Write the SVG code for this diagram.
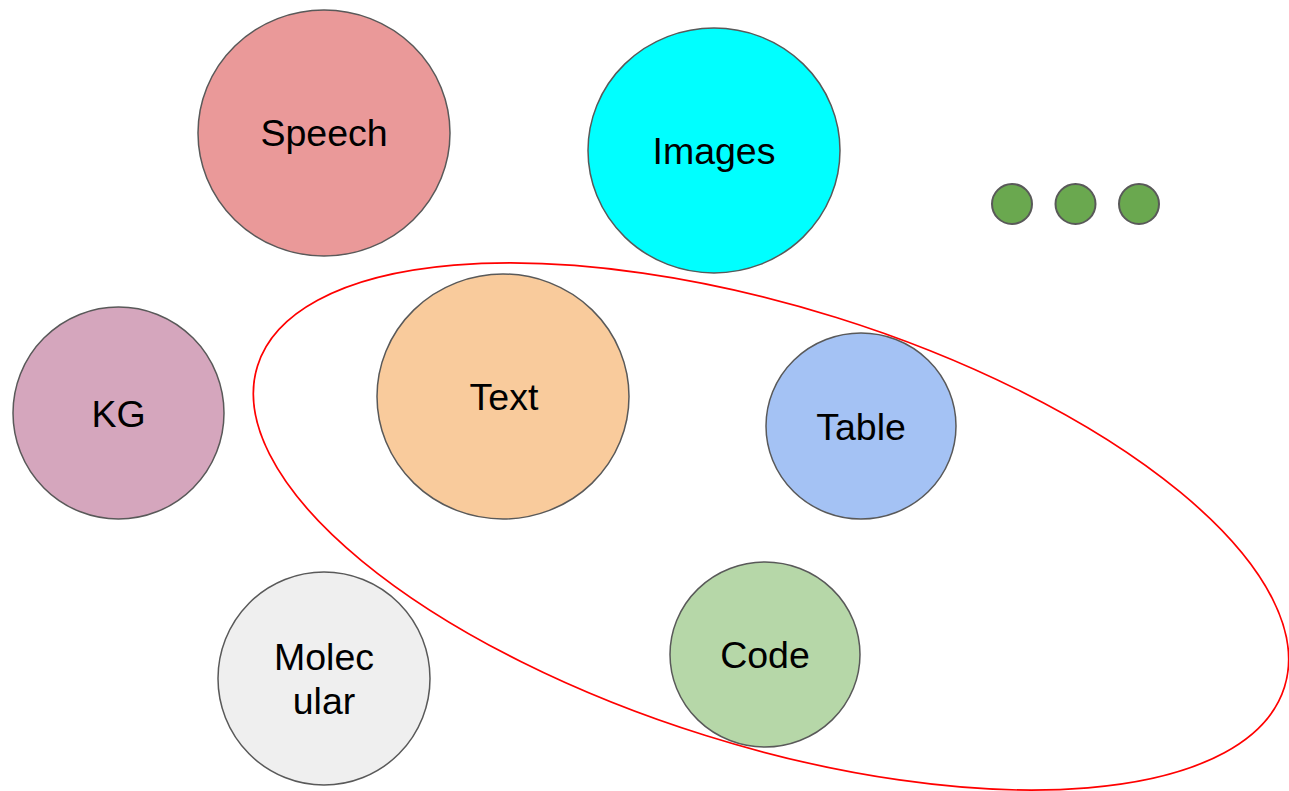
<svg xmlns="http://www.w3.org/2000/svg" width="1289" height="791" viewBox="0 0 1289 791">
<style>
.n{stroke:#595959;stroke-width:1.5}
.t{font-family:"Liberation Sans",Arial,sans-serif;font-size:37.5px;fill:#000;text-anchor:middle}
.d{fill:#6aa84f;stroke:#595959;stroke-width:2}
</style>
<rect width="1289" height="791" fill="#fff"/>
<g id="speech"><ellipse class="n" cx="324" cy="133" rx="126" ry="123" fill="#ea9999"/><text class="t" x="324" y="146">Speech</text></g>
<g id="images"><ellipse class="n" cx="714" cy="150.5" rx="126" ry="122.5" fill="#00ffff"/><text class="t" x="714" y="164">Images</text></g>
<g id="kg"><ellipse class="n" cx="118.5" cy="413" rx="105.5" ry="106" fill="#d5a6bd"/><text class="t" x="118.5" y="427">KG</text></g>
<g id="text"><ellipse class="n" cx="503" cy="396.5" rx="126" ry="122.5" fill="#f9cb9c"/><text class="t" x="504" y="410">Text</text></g>
<g id="table"><ellipse class="n" cx="861" cy="426" rx="95" ry="93" fill="#a4c2f4"/><text class="t" x="861" y="440">Table</text></g>
<g id="code"><ellipse class="n" cx="765" cy="654.5" rx="95" ry="92.5" fill="#b6d7a8"/><text class="t" x="765" y="668">Code</text></g>
<g id="molecular"><ellipse class="n" cx="324" cy="678.5" rx="106" ry="106.5" fill="#efefef"/><text class="t" x="324" y="670">Molec</text><text class="t" x="324" y="714">ular</text></g>
<g id="dots"><circle class="d" cx="1012" cy="204" r="20"/><circle class="d" cx="1075.5" cy="204" r="20"/><circle class="d" cx="1139" cy="204" r="20"/></g>
<g id="group"><ellipse cx="771" cy="526.5" rx="538" ry="219" transform="rotate(17.36 771 526.5)" fill="none" stroke="#ff0000" stroke-width="1.7"/></g>
</svg>
